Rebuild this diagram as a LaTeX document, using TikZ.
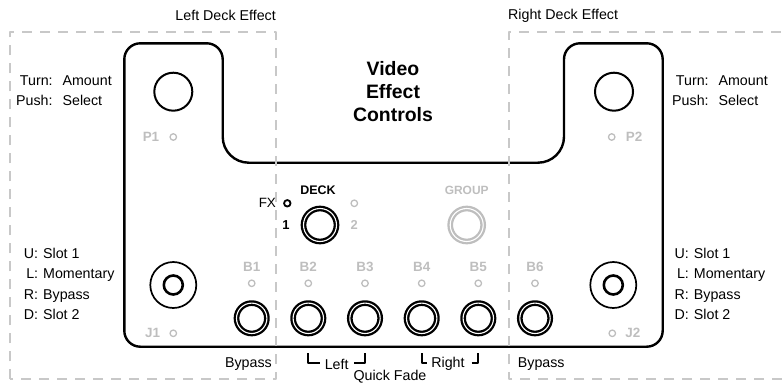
\documentclass[tikz,border=0pt]{standalone}
\usepackage{fontspec}
\setmainfont{Liberation Sans}
\usetikzlibrary{positioning}
\definecolor{ledgray}{RGB}{190,190,190}
\definecolor{zonegray}{RGB}{200,200,200}
\tikzset{
  knob/.style    ={circle,draw=black,line width=2bp,minimum size=38bp,inner sep=0pt},
  pad/.style     ={circle,draw=black,line width=2.3bp,double=white,double distance=1.1bp,
                   minimum size=30.4bp,inner sep=0pt},
  padoff/.style  ={pad,draw=ledgray},
  stick/.style   ={circle,draw=black,line width=1.7bp,minimum size=46bp,inner sep=0pt},
  stickcap/.style={circle,draw=black,line width=2.6bp,minimum size=19bp,inner sep=0pt},
  led/.style     ={circle,draw=ledgray,line width=1.3bp,minimum size=6.5bp,inner sep=0pt},
  ledon/.style   ={led,draw=black,line width=1.8bp},
  tag/.style     ={font=\fontsize{13.5}{15}\selectfont\bfseries,text=ledgray,inner sep=0pt},
  txt/.style     ={font=\fontsize{14.3}{20}\selectfont,inner sep=0pt},
  zone/.style    ={draw=zonegray,line width=2bp,dash pattern=on 10bp off 8bp},
  brk/.style     ={line width=2bp},
}

\begin{document}
\begin{tikzpicture}[x=1bp, y=1bp, line join=round]
\useasboundingbox (0,0) rectangle (782,383);

% Outline of the unit
\draw[line width=2.4bp]
  (124.3,52.3) -- (124.3,323.7) arc (180:90:16) -- (206.7,339.7) arc (90:0:16)
  -- (222.7,246.3) arc (180:270:26) -- (538,220.3) arc (270:360:26)
  -- (564,323.7) arc (180:90:16) -- (646.7,339.7) arc (90:0:16)
  -- (662.7,52.3) arc (0:-90:16) -- (140.3,36.3) arc (270:180:16) -- cycle;

% Deck effect zones
\draw[zone] (10,3.7) rectangle (276,351.3);
\draw[zone] (800,3.7) -- (509.3,3.7) -- (509.3,351.3) -- (800,351.3);
\node[txt, anchor=east] (lzone) at (276,367.3) {Left Deck Effect};
\node[txt, anchor=west] (rzone) at (508,367.3) {Right Deck Effect};

\node[txt, font=\fontsize{19.5}{23.5}\selectfont\bfseries, align=center] (title) at (393,291.5)
  {Video\\Effect\\Controls};

% Knobs
\node[knob] (p1) at (173.3,291.3) {};
\node[knob] (p2) at (614,291.3) {};
\node[led] (p1led) at (173.3,246) {};
\node[led] (p2led) at (611.7,246) {};
\node[tag, left=10bp of p1led] (p1tag) {P1};
\node[tag, right=10bp of p2led] (p2tag) {P2};

\node[txt, anchor=west] (p1help) at (16,291.3)
  {\begin{tabular}{@{}r@{\hspace{10bp}}l@{}}Turn: & Amount\\ Push: & Select\end{tabular}};
\node[txt, anchor=west] (p2help) at (672,291.3)
  {\begin{tabular}{@{}r@{\hspace{10bp}}l@{}}Turn: & Amount\\ Push: & Select\end{tabular}};

% Joysticks
\node[stick] (j1) at (173.3,98) {};
\node[stickcap] (j1cap) at (j1) {};
\node[stick] (j2) at (613.3,98) {};
\node[stickcap] (j2cap) at (j2) {};
\node[led] (j1led) at (173.3,49.7) {};
\node[led] (j2led) at (612.3,49.7) {};
\node[tag, left=9bp of j1led] (j1tag) {J1};
\node[tag, right=9bp of j2led] (j2tag) {J2};

\node[txt, anchor=west] (j1help) at (23.7,98)
  {\fontsize{14.3}{20.5}\selectfont\begin{tabular}{@{}r@{\hspace{5bp}}l@{}}U: & Slot 1\\ L: & Momentary\\ R: & Bypass\\ D: & Slot 2\end{tabular}};
\node[txt, anchor=west] (j2help) at (674.5,98)
  {\fontsize{14.3}{20.5}\selectfont\begin{tabular}{@{}r@{\hspace{5bp}}l@{}}U: & Slot 1\\ L: & Momentary\\ R: & Bypass\\ D: & Slot 2\end{tabular}};

% Deck and group buttons
\node[pad, minimum size=33bp] (deck) at (320,158) {};
\node[tag, text=black, font=\fontsize{12.5}{14}\selectfont\bfseries] (decktag) at (318,192.3) {DECK};
\node[ledon] (fxled) at (287.3,179.7) {};
\node[led] (d2led) at (354.3,179.7) {};
\node[txt, font=\fontsize{13.5}{15}\selectfont, left=7bp of fxled] (fxtag) {FX};
\node[tag, text=black, font=\fontsize{13}{15}\selectfont\bfseries] (d1tag) at (286,158) {1};
\node[tag, font=\fontsize{13}{15}\selectfont\bfseries] (d2tag) at (354.3,158) {2};

\node[padoff, minimum size=33bp] (group) at (466.7,158) {};
\node[tag, font=\fontsize{12}{14}\selectfont\bfseries] (grouptag) at (466.7,192.3) {GROUP};

% Pad buttons
\foreach \i/\x in {1/251.7,2/308.3,3/365,4/421.7,5/478.3,6/535} {
  \node[pad] (b\i) at (\x,64.7) {};
  \node[led] (b\i led) at (\x,99.7) {};
  \node[tag] (b\i tag) at (\x,116.3) {B\i};
}

% Pad functions
\node[txt, anchor=east] (b1help) at (272,18.7) {Bypass};
\node[txt, anchor=west] (b6help) at (517.7,18.7) {Bypass};
\node[txt] (lefthelp) at (336.7,18.7) {Left};
\node[txt] (righthelp) at (448,18.7) {Right};
\node[txt, anchor=base] (fadehelp) at (390,3) {Quick Fade};

\draw[brk] (b2 |- 0,29.7) -- (b2 |- 0,19.7) -- (320,19.7);
\draw[brk] (354,19.7) -- (b3 |- 0,19.7) -- (b3 |- 0,29.7);
\draw[brk] (b4 |- 0,29.7) -- (b4 |- 0,19.7) -- (427,19.7);
\draw[brk] (471.7,19.7) -- (b5 |- 0,19.7) -- (b5 |- 0,29.7);

\end{tikzpicture}
\end{document}
